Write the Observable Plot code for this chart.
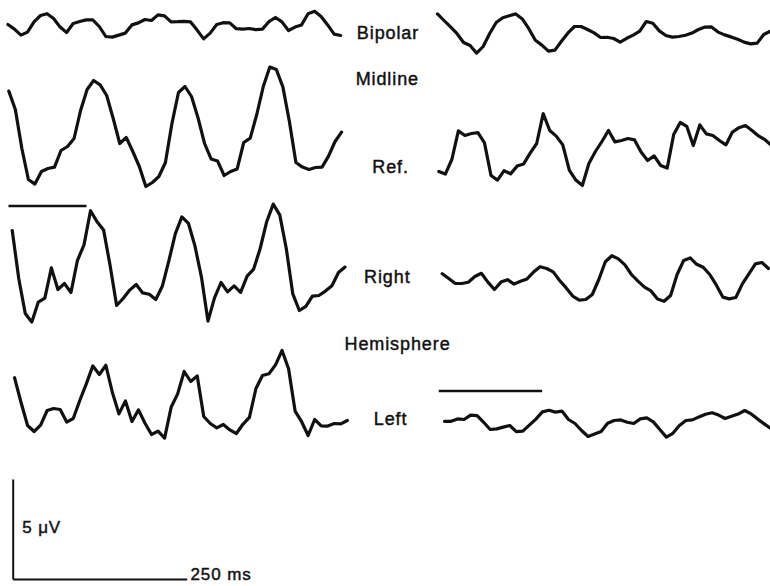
<!DOCTYPE html>
<html><head><meta charset="utf-8">
<script src="https://cdn.jsdelivr.net/npm/d3@7"></script>
<script src="https://cdn.jsdelivr.net/npm/@observablehq/plot@0.6"></script>
<style>html,body{margin:0;padding:0;background:#fff}</style>
</head><body><div id="chart"></div>
<script>
const DT = 9.375;

// Trace values, μV relative to each trace's own baseline, one value every DT ms
const bipolarLeft = [0.05,-0.18,-0.48,-0.33,0.18,0.5,0.59,0.35,-0.08,-0.35,0.1,0.2,0.28,0.28,-0.05,-0.55,-0.58,-0.48,-0.38,0.03,0.13,0.3,0.25,0.53,0.48,0.18,0.19,0.21,0.18,-0.23,-0.67,-0.38,0.05,0.14,0.13,-0.16,-0.18,-0.15,-0.21,-0.18,0.19,0.4,0.18,-0.25,-0.08,0.03,0.59,0.71,0.45,0.03,-0.43,-0.5];
const bipolarRight = [0.83,0.5,0.18,-0.16,-0.6,-0.75,-1.13,-0.8,-0.15,0.4,0.64,0.74,0.83,0.58,0.09,-0.49,-0.73,-1.03,-0.98,-0.54,-0.12,0.2,0.2,0.05,-0.12,-0.35,-0.34,-0.4,-0.58,-0.39,-0.23,-0.03,0.45,0.36,-0.02,-0.25,-0.33,-0.3,-0.24,-0.13,0.05,0.17,0.18,-0.08,-0.22,-0.32,-0.44,-0.58,-0.67,-0.63,-0.2,-0.04];
const refLeft = [2.22,1.3,-0.65,-2.2,-2.43,-1.8,-1.65,-1.58,-0.75,-0.55,-0.15,1.25,2.3,2.75,2.53,2,0.85,-0.4,-0.1,-0.8,-1.55,-2.55,-2.35,-2.05,-1.35,0.6,2.15,2.45,1.95,0.88,-0.4,-1.17,-1.28,-2,-1.8,-1.67,-0.35,-0.13,1.05,2.45,3.42,3.3,2.43,0.7,-1.35,-1.58,-1.7,-1.6,-1.58,-1.03,-0.3,0.17];
const refRight = [-1.05,-1.18,-0.45,0.98,0.75,0.85,0.89,0.38,-1.25,-1.48,-1.01,-1.17,-0.78,-0.67,-0.13,0.35,1.84,1,0.72,0.28,-0.98,-1.48,-1.75,-0.65,-0.05,0.45,1,0.43,0.5,0.6,0.53,-0.08,-0.5,-0.27,-0.75,-0.88,0.8,1.4,1.21,0.25,1.28,0.83,0.75,0.5,0.28,0.92,1.14,1.25,1,0.73,0.54,0.25];
const rightLeft = [2,-0.4,-2.15,-2.58,-1.58,-1.38,0.13,-0.95,-0.65,-1.1,0.51,1.28,2.99,2.44,2.03,0.25,-1.75,-1.4,-0.98,-0.7,-1.12,-1.19,-1.45,-0.79,0.48,1.84,2.68,2.36,1.23,-0.33,-2.53,-1.37,-0.6,-1.07,-0.77,-1.09,-0.28,0.07,1.1,2.44,3.32,2.78,1.1,-1.17,-2,-1.79,-1.28,-1.25,-1.03,-0.76,-0.1,0.17];
const rightRight = [0.34,0.1,-0.15,-0.15,-0.09,0.2,0.36,-0.08,-0.45,-0.08,0.04,-0.18,-0.04,0.08,0.42,0.69,0.6,0.43,0,-0.37,-0.78,-0.98,-0.95,-0.7,0.05,0.94,1.24,1.08,0.78,0.3,-0.03,-0.33,-0.52,-0.93,-1.04,-0.75,0.3,1,1.13,0.81,0.66,0.3,-0.22,-0.83,-0.92,-0.85,-0.17,0.33,0.83,0.9,0.6];
const leftLeft = [1.39,0.15,-1,-1.3,-0.98,-0.25,-0.15,-0.2,-0.83,-0.65,0.25,1.08,1.98,1.55,2.01,0.65,-0.42,0.23,-0.8,-0.22,-0.89,-1.45,-1.28,-1.63,-0.09,0.58,1.7,1.2,1.48,-0.55,-0.9,-1.12,-0.95,-1.22,-1.4,-0.94,-0.59,0.85,1.5,1.59,2.03,2.75,1.84,-0.28,-0.81,-1.5,-0.7,-1.02,-1.03,-0.9,-0.92,-0.75];
const leftRight = [-0.04,-0.04,0.08,0.05,0.27,0.24,-0.09,-0.45,-0.42,-0.33,-0.25,-0.56,-0.53,-0.23,0.07,0.43,0.51,0.42,0.47,0.05,-0.15,-0.5,-0.8,-0.67,-0.55,-0.14,0,0.03,-0.09,-0.15,0.08,0.13,-0.07,-0.45,-0.83,-0.64,-0.25,0,0.03,0.18,0.31,0.39,0.27,0.1,0.21,0.32,0.5,0.33,0.07,-0.17,-0.4];

// Row labels
const labelTexts = ["Bipolar", "Midline", "Ref.", "Right", "Hemisphere", "Left"];
const calibration = {volts: 5, ms: 250, voltLabel: "5 \u03bcV", msLabel: "250 ms"};

// Layout: start time (ms) and vertical offset (μV) of each trace
const layout = [
  {name: "Bipolar L", values: bipolarLeft, t0: -7.6, base: 27.7},
  {name: "Bipolar R", values: bipolarRight, t0: 609.6, base: 27.45},
  {name: "Ref L", values: refLeft, t0: -6.3, base: 22.2},
  {name: "Ref R", values: refRight, t0: 611.5, base: 21.45},
  {name: "Right L", values: rightLeft, t0: -1.4, base: 15.45},
  {name: "Right R", values: rightRight, t0: 616.4, base: 14.95},
  {name: "Left L", values: leftLeft, t0: 1.9, base: 8.7},
  {name: "Left R", values: leftRight, t0: 619.7, base: 7.95}
];
const labelPos = [
  {t: 538.5, v: 27.29}, {t: 537.5, v: 24.99}, {t: 542.2, v: 20.59},
  {t: 537.5, v: 15.09}, {t: 552.2, v: 11.74}, {t: 542.2, v: 7.99}
];
const markerBars = [
  {t1: -6.8, t2: 105.3, v: 18.68},
  {t1: 611.5, t2: 760, v: 9.42}
];

const rows = layout.flatMap(d => d.values.map((v, i) => ({trace: d.name, t: d.t0 + i * DT, v: d.base + v})));
const labels = labelTexts.map((text, i) => ({text, ...labelPos[i]}));
const calLines = [
  {t1: 0, t2: 0, v1: 0, v2: calibration.volts},
  {t1: 0, t2: calibration.ms, v1: 0, v2: 0}
];

const font = "'Liberation Sans', Arial, sans-serif";
const chart = Plot.plot({
  width: 770, height: 586, margin: 0,
  style: {background: "#fff", fontFamily: font, letterSpacing: "0.9px"},
  x: {domain: [0, 250], range: [12.7, 186.7], axis: null},
  y: {domain: [0, 5], range: [579, 479], axis: null},
  marks: [
    Plot.line(rows, {x: "t", y: "v", z: "trace", stroke: "#111", strokeWidth: 3.2, strokeLinejoin: "round", strokeLinecap: "round", curve: "linear"}),
    Plot.link(markerBars, {x1: "t1", x2: "t2", y1: "v", y2: "v", stroke: "#111", strokeWidth: 2.5}),
    Plot.link(calLines, {x1: "t1", x2: "t2", y1: "v1", y2: "v2", stroke: "#111", strokeWidth: 2}),
    Plot.text(labels, {x: "t", y: "v", text: "text", fontSize: 18, fill: "#111", stroke: "#111", strokeWidth: 0.45, textAnchor: "middle"}),
    Plot.text([calibration], {x: 12.9, y: 2.59, text: "voltLabel", fontSize: 17, fill: "#111", stroke: "#111", strokeWidth: 0.45, textAnchor: "start"}),
    Plot.text([calibration], {x: 254.7, y: 0.24, text: "msLabel", fontSize: 17, fill: "#111", stroke: "#111", strokeWidth: 0.45, textAnchor: "start"})
  ]
});
document.getElementById("chart").appendChild(chart);
</script>
</body></html>
